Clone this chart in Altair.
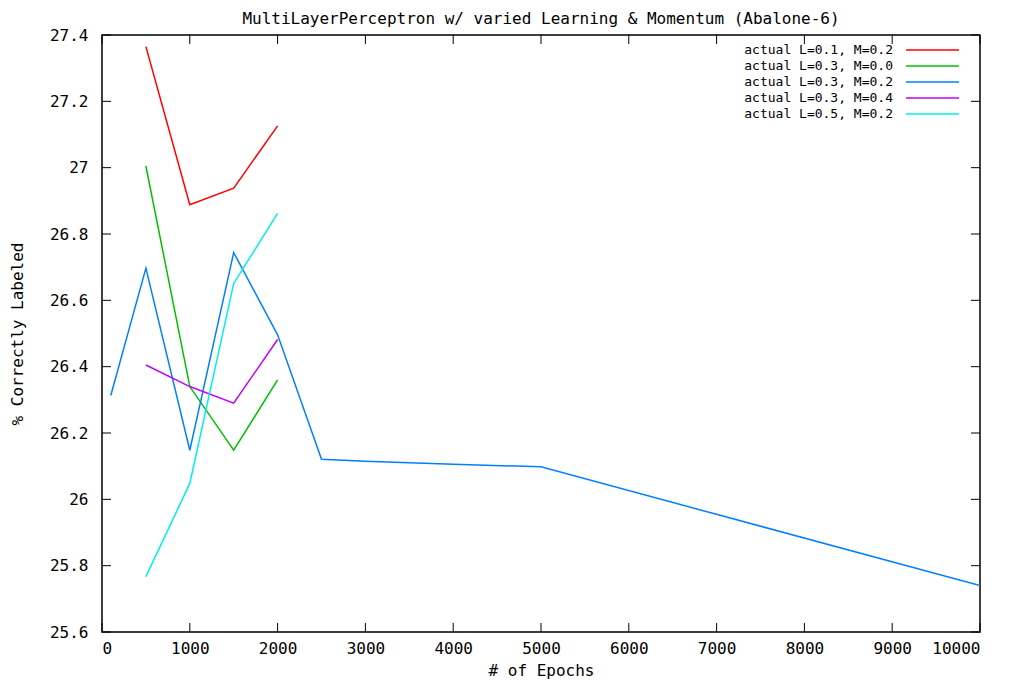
import altair as alt
import pandas as pd

series_names = ["actual L=0.1, M=0.2", "actual L=0.3, M=0.0", "actual L=0.3, M=0.2",
                "actual L=0.3, M=0.4", "actual L=0.5, M=0.2"]
series_colors = ["#ff0000", "#00c000", "#0080ff", "#c000ff", "#00eeee"]

red_x = [500, 1000, 1500, 2000]
red_y = [27.365, 26.888, 26.938, 27.126]
green_x = [500, 1000, 1500, 2000]
green_y = [27.005, 26.34, 26.148, 26.36]
blue_x = [100, 500, 1000, 1500, 2000, 2500, 3000, 4000, 5000, 10000]
blue_y = [26.313, 26.697, 26.148, 26.744, 26.496, 26.121, 26.115, 26.106, 26.098, 25.740]
magenta_x = [500, 1000, 1500, 2000]
magenta_y = [26.405, 26.34, 26.29, 26.482]
cyan_x = [500, 1000, 1500, 2000]
cyan_y = [25.767, 26.048, 26.651, 26.862]

x_ticks = [0, 1000, 2000, 3000, 4000, 5000, 6000, 7000, 8000, 9000, 10000]
y_ticks = [25.6, 25.8, 26.0, 26.2, 26.4, 26.6, 26.8, 27.0, 27.2, 27.4]

FONT = "DejaVu Sans Mono"
FS = 16
LEG_FS = 13
W, H = 878, 597

rows = []
for name, xs, ys in zip(series_names,
                        [red_x, green_x, blue_x, magenta_x, cyan_x],
                        [red_y, green_y, blue_y, magenta_y, cyan_y]):
    for i, (xv, yv) in enumerate(zip(xs, ys)):
        rows.append({"series": name, "epochs": xv, "value": yv, "order": i})
df = pd.DataFrame(rows)

color = alt.Color("series:N", scale=alt.Scale(domain=series_names, range=series_colors), legend=None)
xscale = alt.Scale(domain=[0, 10000], nice=False, zero=False)
yscale = alt.Scale(domain=[25.6, 27.4], nice=False, zero=False)

lines = alt.Chart(df).mark_line(strokeWidth=1.5, clip=True).encode(
    x=alt.X("epochs:Q", scale=xscale,
            axis=alt.Axis(values=x_ticks, format="d", title="# of Epochs", ticks=False, domain=False,
                          grid=False, labelPadding=8, titlePadding=6)),
    y=alt.Y("value:Q", scale=yscale,
            axis=alt.Axis(values=y_ticks, title="% Correctly Labeled", ticks=False, domain=False,
                          grid=False, labelPadding=14, titlePadding=24,
                          labelExpr="datum.value == 26 ? '26' : datum.value == 27 ? '27' : format(datum.value, '.1f')")),
    color=color,
    order="order:Q",
)

xt = pd.DataFrame({"t": x_ticks})
yt = pd.DataFrame({"t": y_ticks})
tick_style = dict(color="black", strokeWidth=1)
xb = alt.Chart(xt).mark_rule(**tick_style).encode(
    x=alt.X("t:Q", scale=xscale), y=alt.value(H), y2=alt.value(H - 9))
xtop = alt.Chart(xt).mark_rule(**tick_style).encode(
    x=alt.X("t:Q", scale=xscale), y=alt.value(0), y2=alt.value(9))
yl = alt.Chart(yt).mark_rule(**tick_style).encode(
    y=alt.Y("t:Q", scale=yscale, axis=None), x=alt.value(0), x2=alt.value(9))
yr = alt.Chart(yt).mark_rule(**tick_style).encode(
    y=alt.Y("t:Q", scale=yscale, axis=None), x=alt.value(W), x2=alt.value(W - 9))

leg_df = pd.DataFrame({"series": series_names, "row": list(range(len(series_names)))})
leg_y = alt.Y("row:Q", scale=alt.Scale(domain=[0, 4], range=[15, 79]), axis=None)
leg_text = alt.Chart(leg_df).mark_text(align="right", baseline="middle", font=FONT, fontSize=LEG_FS,
                                       color="black").encode(
    y=leg_y, x=alt.value(791), text="series:N")
leg_line = alt.Chart(leg_df).mark_rule(strokeWidth=1.5).encode(
    y=leg_y, x=alt.value(804), x2=alt.value(857), color=color)

chart = alt.layer(lines, xb, xtop, yl, yr, leg_text, leg_line).resolve_scale(
    y="independent"
).properties(
    width=W, height=H,
    title=alt.TitleParams("MultiLayerPerceptron w/ varied Learning & Momentum (Abalone-6)",
                          font=FONT, fontSize=FS, fontWeight="normal", offset=0, anchor="middle",
                          color="black"),
    autosize=alt.AutoSizeParams(type="none"),
    padding={"left": 94, "top": 27, "right": 30, "bottom": 50},
).configure(background="white").configure_view(stroke="black", strokeWidth=1.5).configure_axis(
    labelFont=FONT, labelFontSize=FS, labelColor="black",
    titleFont=FONT, titleFontSize=FS, titleFontWeight="normal", titleColor="black",
)

chart.save("out.html", embed_options={"renderer": "svg", "actions": False})
